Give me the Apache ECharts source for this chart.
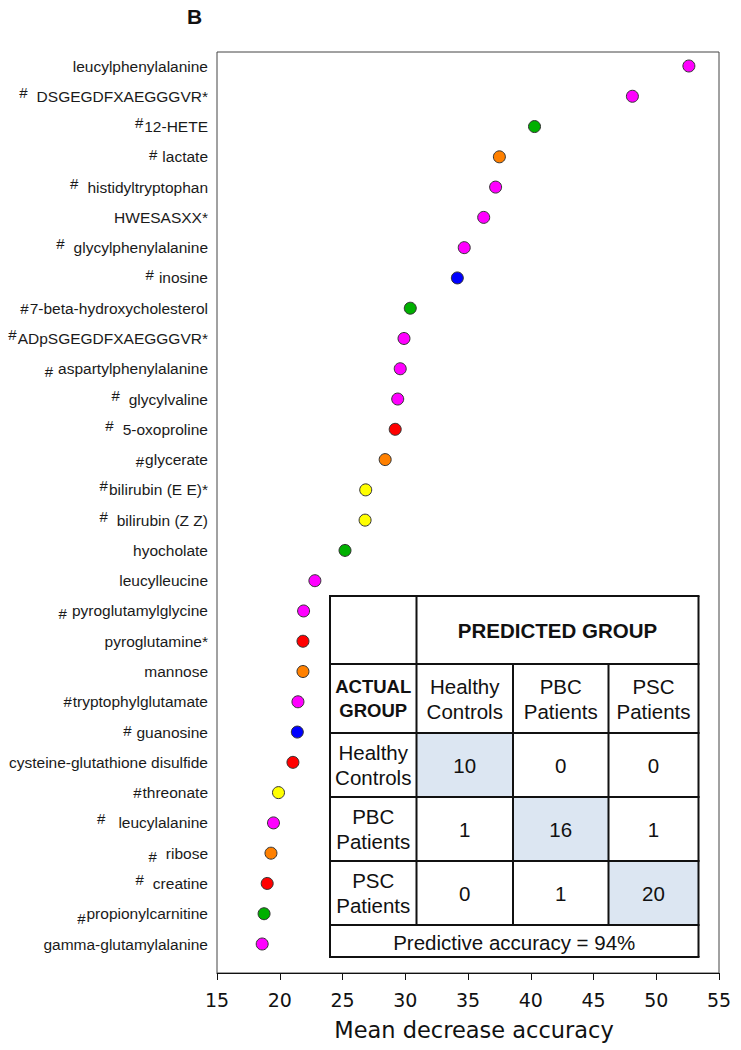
<!DOCTYPE html>
<html>
<head>
<meta charset="utf-8">
<script src="https://cdn.jsdelivr.net/npm/echarts@6/dist/echarts.min.js"></script>
<style>
html,body{margin:0;padding:0;background:#fff;}
#chart{width:741px;height:1050px;}
</style>
</head>
<body>
<div id="chart"></div>
<script>
// ---- data ----
var metabolites = ['leucylphenylalanine', '#  DSGEGDFXAEGGGVR*', '#12-HETE', '# lactate', '#  histidyltryptophan', 'HWESASXX*', '#  glycylphenylalanine', '# inosine', '#7-beta-hydroxycholesterol', '#ADpSGEGDFXAEGGGVR*', '# aspartylphenylalanine', '#  glycylvaline', '#  5-oxoproline', '#glycerate', '#bilirubin (E E)*', '#  bilirubin (Z Z)', 'hyocholate', 'leucylleucine', '# pyroglutamylglycine', 'pyroglutamine*', 'mannose', '#tryptophylglutamate', '# guanosine', 'cysteine-glutathione disulfide', '#threonate', '#   leucylalanine', '#  ribose', '#  creatine', '#propionylcarnitine', 'gamma-glutamylalanine'];
var meanDecreaseAccuracy = [52.6, 48.1, 40.3, 37.5, 37.2, 36.25, 34.7, 34.15, 30.4, 29.9, 29.6, 29.4, 29.2, 28.4, 26.85, 26.8, 25.2, 22.8, 21.9, 21.85, 21.85, 21.45, 21.4, 21.05, 19.9, 19.5, 19.3, 19.0, 18.75, 18.6];
var pathway = ['peptide', 'peptide', 'lipid', 'carbohydrate', 'peptide', 'peptide', 'peptide', 'nucleotide', 'lipid', 'peptide', 'peptide', 'peptide', 'aminoacid', 'carbohydrate', 'cofactor', 'cofactor', 'lipid', 'peptide', 'peptide', 'aminoacid', 'carbohydrate', 'peptide', 'nucleotide', 'aminoacid', 'cofactor', 'peptide', 'carbohydrate', 'aminoacid', 'lipid', 'peptide'];
var xTicks = [15, 20, 25, 30, 35, 40, 45, 50, 55];
var groups = ['Healthy\nControls', 'PBC\nPatients', 'PSC\nPatients'];
var confusion = [[10, 0, 0], [1, 16, 1], [0, 1, 20]];
var accuracyText = 'Predictive accuracy = 94%';

// ---- styles ----
var pathwayColor = {peptide: '#ff00ff', lipid: '#00b000', carbohydrate: '#ff8000', nucleotide: '#0000ff', aminoacid: '#ff0000', cofactor: '#ffff00'};
var hashShift = [0, 4, 4, 2, 4, 0, 4, 3, 0, 4, -3, 4, 4, -2, 4, 4, 0, 0, -3, 0, 0, 0, 2, 0, 0, 4, -3, 4, -5, 0];
var labelFont = "'Liberation Sans', Arial, sans-serif";
var axisFont = "'DejaVu Sans', Verdana, sans-serif";

var rich = { t: { fontSize: 15.5, fontFamily: labelFont, color: '#1a1a1a' } };
metabolites.forEach(function (m, i) {
  if (m.charAt(0) === '#') {
    var rest = m.slice(1);
    var gap = rest.length - rest.replace(/^\s+/, '').length;
    var s = hashShift[i];
    rich['h' + i] = {
      fontSize: 15, fontFamily: labelFont, color: '#1a1a1a',
      padding: [s < 0 ? -2 * s : 0, 1 + gap * 4, s > 0 ? 2 * s : 0, 0]
    };
  }
});

var chart = echarts.init(document.getElementById('chart'), null, { renderer: 'svg' });

var cols = [330, 416.5, 513, 608.5, 698.5];
var rows = [596, 664, 733, 797, 861, 925, 957];
var g = [];
var cellText = function (text, x, y, opts) {
  g.push({
    type: 'text', x: x, y: y, z: 20,
    style: Object.assign({ text: text, fontSize: 20.5, fontFamily: labelFont, fill: '#111', align: 'center', verticalAlign: 'middle', lineHeight: 25 }, opts || {})
  });
};
// table background and diagonal shading
g.push({ type: 'rect', z: 10, shape: { x: cols[0], y: rows[0], width: cols[4] - cols[0], height: rows[6] - rows[0] }, style: { fill: '#fff' } });
for (var d = 0; d < 3; d++) {
  g.push({ type: 'rect', z: 11, shape: { x: cols[d + 1], y: rows[d + 2], width: cols[d + 2] - cols[d + 1], height: rows[d + 3] - rows[d + 2] }, style: { fill: '#dce6f2' } });
}
var line = function (x1, y1, x2, y2) {
  g.push({ type: 'line', z: 15, shape: { x1: x1, y1: y1, x2: x2, y2: y2 }, style: { stroke: '#111', lineWidth: 2 } });
};
for (var r = 0; r < rows.length; r++) line(cols[0] - 1, rows[r], cols[4] + 1, rows[r]);
line(cols[0], rows[0], cols[0], rows[6]);
line(cols[4], rows[0], cols[4], rows[6]);
line(cols[1], rows[0], cols[1], rows[5]);
line(cols[2], rows[1], cols[2], rows[5]);
line(cols[3], rows[1], cols[3], rows[5]);
cellText('PREDICTED GROUP', (cols[1] + cols[4]) / 2, (rows[0] + rows[1]) / 2, { fontWeight: 'bold', fontSize: 20.5 });
cellText('ACTUAL\nGROUP', (cols[0] + cols[1]) / 2, (rows[1] + rows[2]) / 2, { fontWeight: 'bold', fontSize: 18.5, lineHeight: 24 });
groups.forEach(function (name, j) {
  cellText(name, (cols[j + 1] + cols[j + 2]) / 2, (rows[1] + rows[2]) / 2);
  cellText(name, (cols[0] + cols[1]) / 2, (rows[j + 2] + rows[j + 3]) / 2);
  confusion[j].forEach(function (v, k) {
    cellText(String(v), (cols[k + 1] + cols[k + 2]) / 2, (rows[j + 2] + rows[j + 3]) / 2);
  });
});
cellText(accuracyText, (cols[0] + cols[4]) / 2, (rows[5] + rows[6]) / 2 + 1);
// panel letter
g.push({ type: 'text', x: 194.5, y: 16, style: { text: 'B', fontSize: 21, fontWeight: 'bold', fontFamily: labelFont, fill: '#111', align: 'center', verticalAlign: 'middle' } });

var option = {
  backgroundColor: '#fff',
  animation: false,
  grid: [
    { left: 217, right: 22, top: 52, bottom: 77, show: true, borderColor: '#444', borderWidth: 1, containLabel: false },
    { left: 217, right: 22, top: 66, bottom: 106, containLabel: false }
  ],
  xAxis: [
    {
      gridIndex: 0, type: 'value', min: xTicks[0], max: xTicks[xTicks.length - 1], interval: xTicks[1] - xTicks[0],
      splitLine: { show: false },
      axisLine: { show: true, lineStyle: { color: '#111', width: 1 } },
      axisTick: { show: true, inside: false, length: 7, lineStyle: { color: '#111' } },
      axisLabel: { fontSize: 19, fontFamily: axisFont, color: '#111', margin: 17 },
      name: 'Mean decrease accuracy', nameLocation: 'middle', nameGap: 45,
      nameTextStyle: { fontSize: 22.5, fontFamily: axisFont, color: '#111', padding: [0, 0, 0, 12] }
    },
    { gridIndex: 1, type: 'value', min: xTicks[0], max: xTicks[xTicks.length - 1], show: false }
  ],
  yAxis: [
    { gridIndex: 0, type: 'value', show: false },
    {
      gridIndex: 1, type: 'category', data: metabolites, inverse: true, boundaryGap: false,
      axisLine: { show: false }, axisTick: { show: false }, splitLine: { show: false },
      axisLabel: {
        interval: 0, margin: 9,
        formatter: function (value, idx) {
          if (value.charAt(0) === '#') {
            return '{h' + idx + '|#}{t|' + value.slice(1).replace(/^\s+/, '') + '}';
          }
          return '{t|' + value + '}';
        },
        rich: rich
      }
    }
  ],
  series: [{
    type: 'scatter', xAxisIndex: 1, yAxisIndex: 1,
    symbol: 'circle', symbolSize: 12,
    itemStyle: { borderColor: '#333', borderWidth: 1, opacity: 1 },
    data: meanDecreaseAccuracy.map(function (v, i) {
      return { value: [v, i], itemStyle: { color: pathwayColor[pathway[i]] } };
    }),
    z: 5
  }],
  graphic: g
};
chart.setOption(option);
</script>
</body>
</html>
